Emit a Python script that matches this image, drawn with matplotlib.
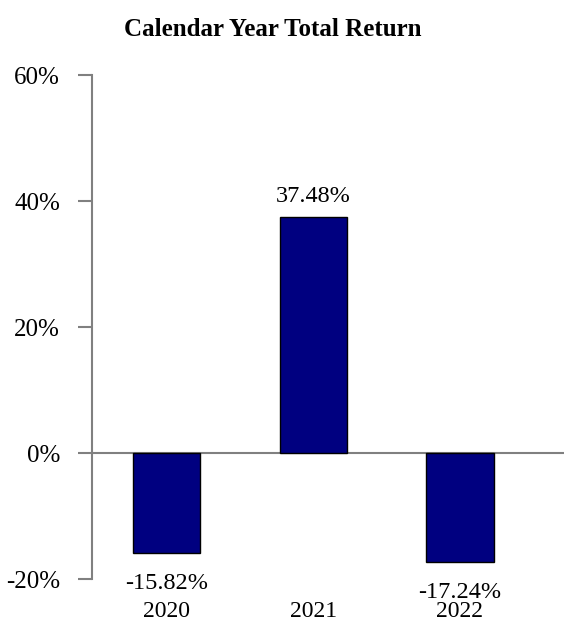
import matplotlib
matplotlib.use("Agg")
import matplotlib.pyplot as plt
from matplotlib.ticker import FuncFormatter

years = ["2020", "2021", "2022"]
returns = [-15.82, 37.48, -17.24]
yticks = [-20, 0, 20, 40, 60]

plt.rcParams['font.family'] = ['Liberation Serif', 'DejaVu Serif']

fig = plt.figure(figsize=(5.64, 6.22), dpi=100)
ax = fig.add_axes([92/564, 43/622, 1 - 92/564, (579-75)/622])

x = list(range(len(years)))
ax.bar(x, returns, width=0.46, color="#000080", edgecolor="black", linewidth=1.0, zorder=3)
ax.axhline(0, color="#808080", linewidth=1.5, zorder=2)

ax.set_xlim(-0.51, 2.71)
ax.set_ylim(-20, 60)
ax.set_yticks(yticks)
ax.yaxis.set_major_formatter(FuncFormatter(lambda v, p: f"{v:.0f}%"))
ax.set_xticks(x)
ax.set_xticklabels(years)
ax.tick_params(axis='x', length=0, pad=16, labelsize=17)
ax.tick_params(axis='y', length=10, width=1.5, color="#808080", pad=13, labelsize=18)

for s in ["top", "right", "bottom"]:
    ax.spines[s].set_visible(False)
ax.spines["left"].set_color("#808080")
ax.spines["left"].set_linewidth(1.5)

for xi, v in zip(x, returns):
    if v >= 0:
        ax.annotate(f"{v:.2f}%", (xi, v), xytext=(0, 7), textcoords="offset points",
                    ha="center", va="bottom", fontsize=17.5)
    else:
        ax.annotate(f"{v:.2f}%", (xi, v), xytext=(0, -15), textcoords="offset points",
                    ha="center", va="top", fontsize=17.5)

fig.text(273/564, 1 - 29/622, "Calendar Year Total Return", ha="center", va="center",
         fontsize=18, fontweight="bold")

fig.savefig("out.png", dpi=100)
